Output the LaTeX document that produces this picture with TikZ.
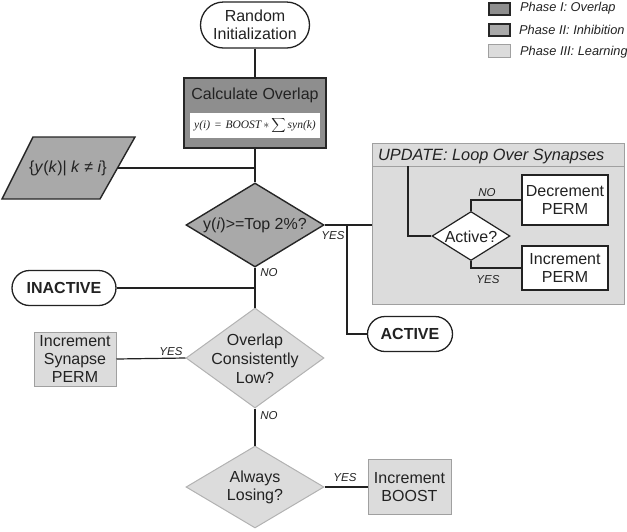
\documentclass[tikz,border=0pt]{standalone}
\usepackage{fontspec}
\setmainfont{Liberation Sans}
\newfontfamily\serifx{Liberation Serif}
\usetikzlibrary{shapes.geometric}
\definecolor{ponefill}{HTML}{8E8E8E}
\definecolor{ptwofill}{HTML}{A9A9A9}
\definecolor{pthreefill}{HTML}{DCDCDC}
\definecolor{pthreeline}{HTML}{A0A0A0}
\definecolor{inkc}{HTML}{222222}
\begin{document}
\begin{tikzpicture}[x=1pt,y=-1pt,
  txt/.style={font=\fontsize{16}{18}\selectfont, align=center, text=inkc},
  lbl/.style={font=\fontsize{11.5}{12}\selectfont\itshape, inner sep=0pt, text=inkc},
  legtxt/.style={font=\fontsize{12.8}{14}\selectfont\itshape, inner sep=0pt, anchor=west, text=inkc},
  conn/.style={draw=inkc, line width=1.2pt},
  term/.style={txt, draw=inkc, line width=1.3pt, fill=white, inner sep=0pt},
  phone/.style={draw=black!85, line width=2.5pt, fill=ponefill, inner sep=0pt},
  phtwo/.style={draw=black!85, line width=1.4pt, fill=ptwofill, inner sep=0pt},
  phthree/.style={draw=pthreeline, line width=1pt, fill=pthreefill, inner sep=0pt},
  whitebox/.style={txt, draw=inkc, line width=1.2pt, fill=white, inner sep=0pt},
  dia/.style={diamond, inner sep=0pt}
]
\useasboundingbox (0,0) rectangle (627,531);

% legend
\node[phone, minimum width=21pt, minimum height=12pt] (lg1) at (499.5,9) {};
\node[phtwo, minimum width=21pt, minimum height=12pt] (lg2) at (499.5,30) {};
\node[phthree, minimum width=22pt, minimum height=13pt] (lg3) at (499.5,51) {};
\node[legtxt] (lt1) at (520,8) {Phase I: Overlap};
\node[legtxt] (lt2) at (519,30) {Phase II: Inhibition};
\node[legtxt] (lt3) at (520,52) {Phase III: Learning};

% update box
\node[phthree, minimum width=252pt, minimum height=161pt] (ub) at (498,223.5) {};
\coordinate (hl) at (372,166);
\coordinate (hr) at (624,166);
\draw[draw=pthreeline, line width=1pt] (hl) -- (hr);
\node[txt, font=\fontsize{16.3}{18}\selectfont\itshape, anchor=west, inner sep=0pt] (uh) at (378,156) {UPDATE: Loop Over Synapses};

% main nodes
\node[term, minimum width=109pt, minimum height=46pt, rounded corners=23pt] (ri) at (255,25) {Random\\Initialization};
\node[phone, minimum width=142pt, minimum height=70pt] (co) at (255,113) {};
\node[txt, inner sep=0pt] (cot) at (255,95) {Calculate Overlap};
\node[draw=none, fill=white, minimum width=130pt, minimum height=25pt, inner sep=0pt,
      font=\fontsize{11.5}{12}\selectfont\serifx\itshape, text=inkc] (fm) at (255,125)
      {y(i)\,\,=\,\,BOOST\,$*\displaystyle\sum$\,syn(k)};

\node[dia, phtwo, minimum width=138pt, minimum height=84pt] (d1) at (255,225) {};
\node[txt, inner sep=0pt] (d1t) at (255,225) {y(\textit{i})>=Top 2\%?};

\node[dia, phthree, draw=black!30, minimum width=138pt, minimum height=100pt] (d2) at (255,358) {};
\node[txt, inner sep=0pt, font=\fontsize{16}{19}\selectfont] (d2t) at (255,359) {Overlap\\Consistently\\Low?};

\node[dia, phthree, draw=black!30, minimum width=138pt, minimum height=82pt] (d3) at (255,487) {};
\node[txt, inner sep=0pt] (d3t) at (255,487) {Always\\Losing?};

% parallelogram
\draw[phtwo] (33,137) -- (135,137) -- (100,199) -- (2,199) -- cycle;
\node[txt, inner sep=0pt] (par) at (68,168) {\{\textit{y}(\textit{k})| \textit{k} ≠ \textit{i}\}};
\coordinate (parR) at (117.5,168);

\node[term, font=\fontsize{16}{18}\selectfont\bfseries, minimum width=104pt, minimum height=35pt, rounded corners=17.5pt] (inact) at (64,288) {INACTIVE};
\node[term, font=\fontsize{16}{18}\selectfont\bfseries, minimum width=85pt, minimum height=35pt, rounded corners=17.5pt] (act) at (410,334) {ACTIVE};

\node[phthree, txt, minimum width=82pt, minimum height=54pt] (isp) at (75,359) {Increment\\Synapse\\PERM};
\node[phthree, txt, minimum width=83pt, minimum height=55pt] (ib) at (409.5,487) {Increment\\BOOST};

% update inner nodes
\node[dia, draw=inkc, line width=1.2pt, fill=white, minimum width=78pt, minimum height=49pt] (ad) at (471,236) {};
\node[txt, inner sep=0pt] (adt) at (471,237) {Active?};
\node[whitebox, minimum width=86pt, minimum height=50pt] (dec) at (565,200) {Decrement\\PERM};
\node[whitebox, minimum width=86pt, minimum height=44pt] (inc) at (565,268) {Increment\\PERM};
\coordinate (uj) at (408,166);
\coordinate (j1) at (347,225);

% connectors
\draw[conn] (ri.south) -- (co.north);
\draw[conn] (co.south) -- (d1.north);
\draw[conn] (parR) -- (parR -| d1.north);
\draw[conn] (d1.south) -- (d2.north);
\draw[conn] (d2.south) -- (d3.north);
\draw[conn] (inact.east) -- (inact.east -| d1.south);
\draw[conn] (d1.east) -- (d1.east -| ub.west);
\draw[conn] (j1) |- (act.west);
\draw[conn] (isp.east) -- (d2.west);
\draw[conn] (d3.east) -- (ib.west);
\draw[conn] (uj) |- (ad.west);
\draw[conn] (ad.north) |- (dec.west);
\draw[conn] (ad.south) |- (inc.west);

% labels
\node[lbl] (y1) at (333,236) {YES};
\node[lbl] (n1) at (269,273) {NO};
\node[lbl] (y2) at (171,352) {YES};
\node[lbl] (n2) at (269,416) {NO};
\node[lbl] (y3) at (345,478) {YES};
\node[lbl] (n4) at (487,193) {NO};
\node[lbl] (y4) at (488,280) {YES};
\end{tikzpicture}
\end{document}
